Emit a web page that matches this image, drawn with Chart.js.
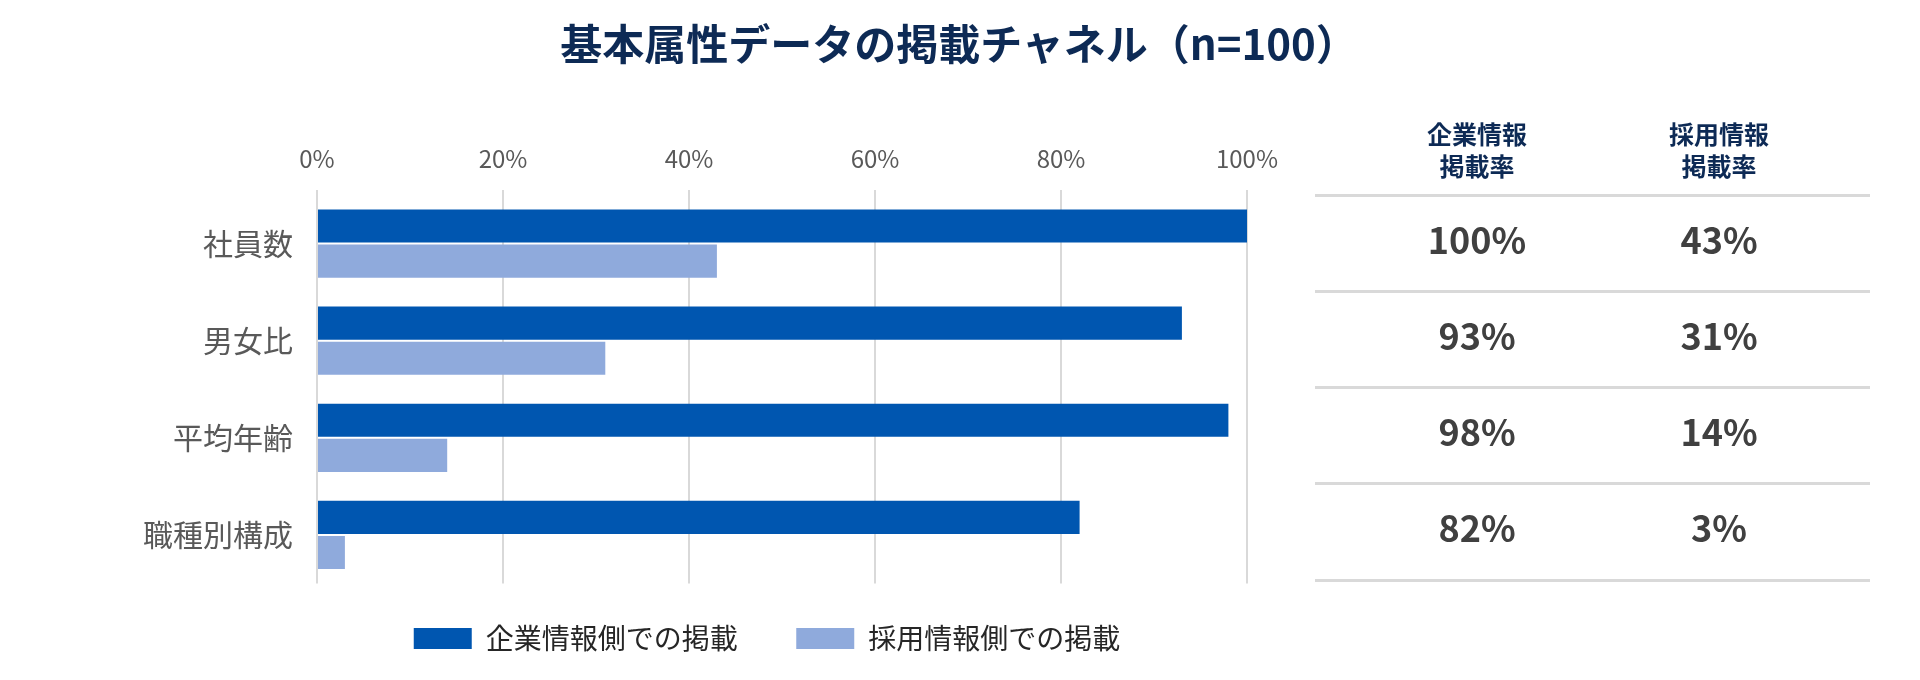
<!DOCTYPE html>
<html lang="ja">
<head>
    <meta charset="UTF-8">
    <title>基本属性データの掲載チャネル</title>
    <script src="https://cdn.jsdelivr.net/npm/chart.js"></script>
    <style>
        html, body { margin: 0; padding: 0; background: #fff; }
        body {
            width: 1920px; height: 680px; position: relative; overflow: hidden;
            font-family: 'Noto Sans CJK JP', sans-serif;
        }
        .chart-box { position: absolute; left: 0; top: 0; width: 1920px; height: 680px; }
        .title {
            position: absolute; left: 0; top: 15px; width: 1918px; margin: 0;
            text-align: center; font-size: 42px; line-height: 54px; font-weight: bold; color: #0d2a55;
        }
        .rate-table { position: absolute; left: 1315px; top: 114px; width: 555px; }
        .rate-row {
            display: flex; gap: 2px; padding-left: 42px;
            border-bottom: 3px solid #d9d9d9;
        }
        .rate-row.head { height: 64px; padding-top: 3px; padding-bottom: 12.5px; }
        .rate-row.head div {
            width: 240px; text-align: center; font-size: 25px; line-height: 32px;
            font-weight: bold; color: #0d2a55;
        }
        .rate-row.body { height: 83.25px; padding-bottom: 10px; }
        .rate-row.body div {
            width: 240px; text-align: center; font-size: 36px; line-height: 83.25px;
            font-weight: bold; color: #404040;
        }
    </style>
</head>
<body>
    <div class="chart-box">
        <canvas id="channelChart" width="1920" height="680"></canvas>
    </div>
    <h1 class="title">基本属性データの掲載チャネル（n=100）</h1>
    <div class="rate-table" id="rateTable"></div>

    <script>
        // 項目と掲載率（%）
        const categories = ['社員数', '男女比', '平均年齢', '職種別構成'];
        const corporateRates = [100, 93, 98, 82];
        const recruitRates = [43, 31, 14, 3];
        const seriesNames = ['企業情報側での掲載', '採用情報側での掲載'];
        const axisTicks = [0, 20, 40, 60, 80, 100];
        const tableHeaders = [['企業情報', '掲載率'], ['採用情報', '掲載率']];

        const FONT = "'Noto Sans CJK JP', sans-serif";

        // 凡例を参照画像の位置に合わせる
        const legendPlacer = {
            id: 'legendPlacer',
            afterLayout(chart) {
                const lg = chart.legend;
                const dx = 767 - (lg.left + lg.right) / 2;
                const dy = 566 - lg.top;
                lg.left += dx; lg.right += dx;
                lg.top += dy; lg.bottom += dy;
            }
        };

        function createChart() {
            const ctx = document.getElementById('channelChart').getContext('2d');
            new Chart(ctx, {
                type: 'bar',
                data: {
                    labels: categories,
                    datasets: [{
                        label: seriesNames[0],
                        data: corporateRates,
                        backgroundColor: '#0056b0',
                        categoryPercentage: 0.725,
                        barPercentage: 0.94
                    }, {
                        label: seriesNames[1],
                        data: recruitRates,
                        backgroundColor: '#8faadc',
                        categoryPercentage: 0.725,
                        barPercentage: 0.94
                    }]
                },
                options: {
                    indexAxis: 'y',
                    responsive: false,
                    animation: false,
                    layout: { padding: { left: 0, right: 673, top: 135, bottom: 0 } },
                    scales: {
                        x: {
                            position: 'top',
                            min: 0,
                            max: 100,
                            afterBuildTicks: (scale) => { scale.ticks = axisTicks.map(v => ({ value: v })); },
                            afterFit: (scale) => { scale.height = 60; },
                            grid: { color: '#d9d9d9', lineWidth: 2, drawTicks: true, tickLength: 5 },
                            border: { display: false },
                            ticks: {
                                padding: 17,
                                color: '#595959',
                                font: { family: FONT, size: 24 },
                                callback: (v) => v + '%'
                            }
                        },
                        y: {
                            afterFit: (scale) => { scale.width = 317; },
                            grid: { display: false, drawTicks: false },
                            border: { display: false },
                            ticks: {
                                padding: 24,
                                color: '#595959',
                                font: { family: FONT, size: 30 }
                            }
                        }
                    },
                    plugins: {
                        legend: {
                            position: 'bottom',
                            maxHeight: 99,
                            labels: {
                                boxWidth: 58,
                                boxHeight: 21,
                                padding: 58.5,
                                color: '#262626',
                                font: { family: FONT, size: 28 }
                            }
                        },
                        tooltip: { enabled: false }
                    }
                },
                plugins: [legendPlacer]
            });
        }

        // 右側の掲載率表
        function buildTable() {
            const table = document.getElementById('rateTable');
            let html = '<div class="rate-row head">' +
                tableHeaders.map(h => '<div>' + h.join('<br>') + '</div>').join('') + '</div>';
            categories.forEach((c, i) => {
                html += '<div class="rate-row body"><div>' + corporateRates[i] + '%</div><div>' +
                    recruitRates[i] + '%</div></div>';
            });
            table.innerHTML = html;
        }

        buildTable();
        createChart();
    </script>
</body>
</html>
